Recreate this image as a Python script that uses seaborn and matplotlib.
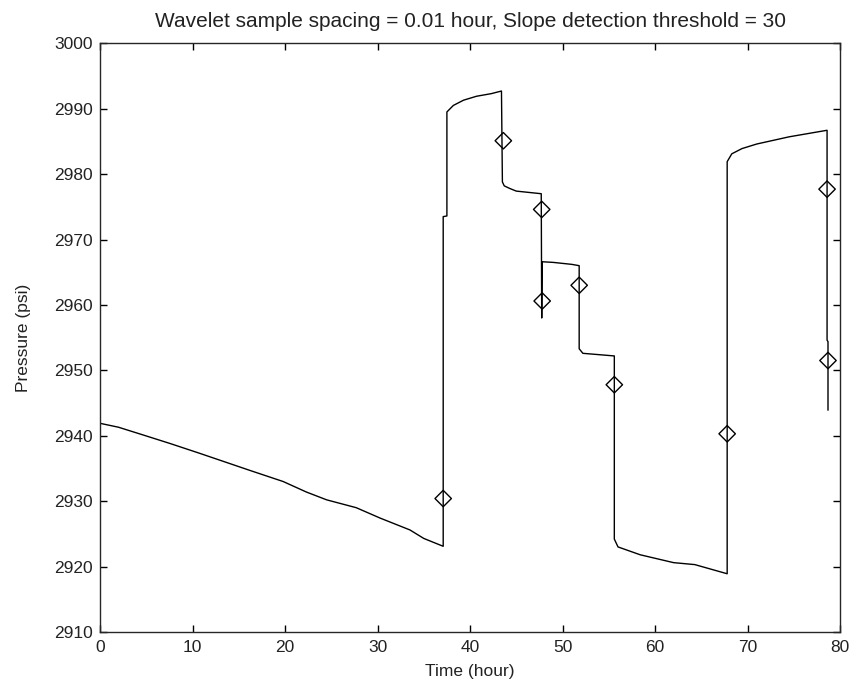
import pandas as pd
import matplotlib
matplotlib.use("Agg")
import matplotlib.pyplot as plt
import seaborn as sns

sns.set_style("ticks")
plt.rcParams.update({
    "font.family": ["Liberation Sans", "DejaVu Sans"],
    "font.size": 12.5,
    "axes.linewidth": 1.0,
    "xtick.direction": "in",
    "ytick.direction": "in",
    "xtick.top": True,
    "ytick.right": True,
})

# ─── data ────────────────────────────────────────────────────────────────────
time_h = [0.0, 2.0, 4.7, 7.6, 10.8, 13.5, 16.2, 19.8, 22.3, 24.5, 27.7, 30.3,
          33.5, 35.0, 37.1,
          37.1, 37.5, 37.5, 38.2, 39.3, 40.7, 42.3, 43.4,
          43.5, 43.7, 44.3, 45.0, 47.7,
          47.75, 47.8, 49.0, 51.0, 51.8,
          51.8, 52.2, 55.6,
          55.6, 56.0, 57.0, 58.4, 62.0, 64.3, 67.8,
          67.8, 68.3, 69.4, 71.0, 74.5, 78.6,
          78.6, 78.7, 78.7]
pressure_psi = [2941.9, 2941.3, 2940.1, 2938.8, 2937.3, 2936.0, 2934.7, 2933.0, 2931.4, 2930.2,
                2929.0, 2927.4, 2925.6, 2924.3, 2923.1,
                2973.5, 2973.6, 2989.5, 2990.5, 2991.3, 2991.9, 2992.3, 2992.7,
                2978.8, 2978.2, 2977.8, 2977.4, 2977.0,
                2958.0, 2966.6, 2966.5, 2966.2, 2966.0,
                2953.3, 2952.6, 2952.2,
                2924.2, 2923.0, 2922.5, 2921.8, 2920.6, 2920.3, 2918.9,
                2981.9, 2983.1, 2983.9, 2984.6, 2985.7, 2986.7,
                2954.6, 2954.4, 2943.9]

marker_time = [37.1, 43.6, 47.75, 47.8, 51.8, 55.6, 67.8, 78.6, 78.7]
marker_psi = [2930.4, 2985.1, 2974.6, 2960.6, 2963.0, 2947.8, 2940.3, 2977.7, 2951.5]

trace = pd.DataFrame({"Time": time_h, "Pressure": pressure_psi})
marks = pd.DataFrame({"Time": marker_time, "Pressure": marker_psi})

fig, ax = plt.subplots(figsize=(8.66, 6.98), dpi=100)
fig.subplots_adjust(left=0.1155, right=0.970, bottom=0.0946, top=0.938)

sns.lineplot(data=trace, x="Time", y="Pressure", sort=False, estimator=None,
             color="black", lw=1.0, ax=ax)
sns.scatterplot(data=marks, x="Time", y="Pressure", marker="D", s=70,
                facecolor="none", edgecolor="black", linewidth=1.0, ax=ax, zorder=3)

ax.set_xlim(0, 80)
ax.set_ylim(2910, 3000)
ax.set_xticks(range(0, 81, 10))
ax.set_yticks(range(2910, 3001, 10))
ax.tick_params(length=5, width=1.0, pad=5.5, colors="black", labelcolor="#222222")
ax.set_xlabel("Time (hour)", labelpad=7, color="#222222")
ax.set_ylabel("Pressure (psi)", labelpad=16, color="#222222")
ax.set_title("Wavelet sample spacing = 0.01 hour, Slope detection threshold = 30",
             pad=12, color="#222222")

plt.savefig("out.png", dpi=100)
plt.close()
